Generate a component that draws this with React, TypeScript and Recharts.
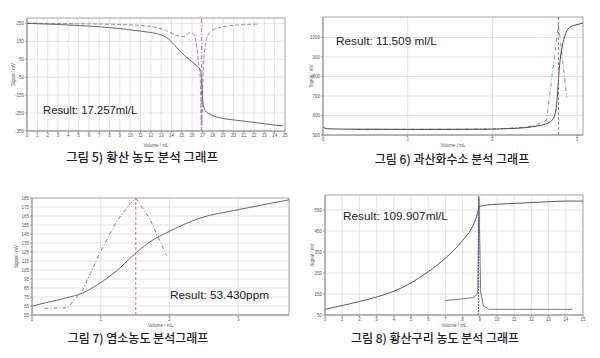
import { LineChart, Line, XAxis, YAxis, CartesianGrid, ReferenceLine, ReferenceArea } from 'recharts';

// 그림 5) 황산 농도
const h2so4Volume = [0, 1, 2, 3, 4, 5, 6, 7, 8, 9, 10, 11, 12, 12.5, 13, 13.5, 14, 14.5, 15, 15.5, 16, 16.5, 16.8, 16.9, 17.0, 17.1, 17.3, 17.7, 19, 20, 22, 24, 24.8];
const h2so4Signal = [250, 248, 246, 244, 241, 238, 235, 231, 226, 221, 214, 207, 199, 194, 186, 172, 148, 115, 85, 60, 35, 10, -8, -45, -157, -210, -238, -255, -280, -288, -302, -317, -321];
const h2so4DerivVolume = [0, 3, 6, 9, 12, 13.5, 14.5, 15, 15.3, 15.8, 16, 16.2, 16.4, 16.6, 16.8, 16.9, 17.1, 17.3, 17.6, 18, 19, 20, 21, 22.3];
const h2so4Deriv = [252, 249, 247, 244, 232, 210, 182, 176, 180, 198, 196, 185, 137, 40, -75, -322, 8, 137, 191, 213, 232, 239, 243, 246];
const h2so4Endpoint = 16.9;
const h2so4XTicks = [0, 1, 2, 3, 4, 5, 6, 7, 8, 9, 10, 11, 12, 13, 14, 15, 16, 17, 18, 19, 20, 21, 22, 23, 24, 25];
const h2so4YTicks = [-350, -250, -150, -50, 50, 150, 250];

// 그림 6) 과산화수소
const h2o2Volume = [0, 0.05, 0.3, 1, 1.5, 2, 2.2, 2.4, 2.55, 2.65, 2.71, 2.75, 2.8, 2.86, 2.92, 3.0, 3.07];
const h2o2Signal = [540, 532, 530, 529, 529, 530, 533, 538, 548, 560, 578, 628, 885, 1013, 1054, 1066, 1074];
const h2o2DerivVolume = [0.4, 1.1, 1.6, 2.0, 2.3, 2.5, 2.64, 2.78, 2.88];
const h2o2Deriv = [528, 529, 530, 531, 537, 548, 577, 1068, 690];
const h2o2Endpoint = 2.78;
const h2o2XTicks = [0, 1, 2, 3];
const h2o2YTicks = [500, 600, 700, 800, 900, 1000];

// 그림 7) 염소농도
const chlorineVolume = [0, 0.25, 0.5, 0.74, 1, 1.23, 1.47, 1.71, 2, 2.44, 3, 3.4, 3.74];
const chlorineSignal = [65, 69.5, 74, 79.5, 91, 104, 121, 136, 148, 162.5, 172, 178, 183];
const chlorineDerivVolume = [0.18, 0.52, 0.74, 0.98, 1.23, 1.42, 1.51, 1.71, 1.96];
const chlorineDeriv = [62.5, 63, 83, 123, 159, 178, 184.5, 162.5, 121];
const chlorineEndpoint = 1.51;
const chlorineXTicks = [0, 1, 2, 3];
const chlorineYTicks = [55, 65, 75, 85, 95, 105, 115, 125, 135, 145, 155, 165, 175, 185];

// 그림 8) 황산구리 농도
const cuso4Volume = [0, 1, 2, 3, 4, 5, 6, 7, 8, 8.5, 8.7, 8.85, 8.95, 9.05, 9.4, 10, 11, 12, 13, 14, 15];
const cuso4Signal = [77, 95, 114, 136, 163, 203, 256, 321, 405, 460, 494, 530, 560, 569, 574, 578, 582, 586, 590, 593, 593];
const cuso4DerivVolume = [7, 8, 8.7, 8.88, 8.95, 9.05, 9.2, 9.5, 10, 12, 14.4];
const cuso4Deriv = [119, 127, 135, 155, 610, 160, 95, 78, 77, 77, 77];
const cuso4Endpoint = 8.92;
const cuso4XTicks = [0, 1, 2, 3, 4, 5, 6, 7, 8, 9, 10, 11, 12, 13, 14, 15];
const cuso4YTicks = [50, 150, 250, 350, 450, 550];

const zip = (xs: number[], ys: number[]) => xs.map((x, i) => ({ x, y: ys[i] }));

type Series = { data: { x: number; y: number }[]; stroke: string; dash?: string; width?: number; smooth?: boolean };

type PanelProps = {
  left: number; top: number; width: number; height: number;
  margin: { top: number; right: number; bottom: number; left: number };
  yWidth: number; xHeight: number;
  xDomain: [number, number]; yDomain: [number, number];
  xTicks: number[]; yTicks: number[];
  series: Series[];
  endpoint: number; endpointColor: string; endpointDash: string;
};

const tickStyle = { fontSize: 4.5, fill: '#555', fontFamily: 'Liberation Sans, Arial, sans-serif' };

function Panel(p: PanelProps) {
  return (
    <div style={{ position: 'absolute', left: p.left, top: p.top }}>
      <LineChart width={p.width} height={p.height} margin={p.margin}>
        <CartesianGrid stroke="#dcdcdc" strokeWidth={0.8} />
        <XAxis
          type="number"
          dataKey="x"
          domain={p.xDomain}
          ticks={p.xTicks}
          interval={0}
          allowDataOverflow
          height={p.xHeight}
          tickSize={2}
          tickMargin={1}
          stroke="#999"
          tick={tickStyle}
          label={{ value: 'Volume / mL', position: 'insideBottom', offset: 3, style: tickStyle }}
        />
        <YAxis
          type="number"
          dataKey="y"
          domain={p.yDomain}
          ticks={p.yTicks}
          interval={0}
          allowDataOverflow
          width={p.yWidth}
          tickSize={2}
          tickMargin={1}
          stroke="#999"
          tick={tickStyle}
          label={{ value: 'Signal / mV', angle: -90, position: 'center', style: tickStyle }}
        />
        <ReferenceArea x1={p.xDomain[0]} x2={p.xDomain[1]} y1={p.yDomain[0]} y2={p.yDomain[1]} fill="none" stroke="#a0a0a0" strokeWidth={0.8} />
        {p.series.map((s, i) => (
          <Line
            key={i}
            data={s.data}
            dataKey="y"
            type={s.smooth ? 'monotone' : 'linear'}
            stroke={s.stroke}
            strokeWidth={s.width ?? 0.9}
            strokeDasharray={s.dash}
            dot={false}
            isAnimationActive={false}
          />
        ))}
        <ReferenceLine x={p.endpoint} stroke={p.endpointColor} strokeDasharray={p.endpointDash} strokeWidth={0.9} />
      </LineChart>
    </div>
  );
}

const resultStyle = {
  position: 'absolute' as const,
  fontFamily: 'Liberation Sans, Arial, sans-serif',
  fontSize: 11.8,
  color: '#1c1c1c',
  lineHeight: '12px',
  whiteSpace: 'nowrap' as const,
};

const captionStyle = {
  position: 'absolute' as const,
  fontFamily: '"Noto Sans CJK KR", sans-serif',
  fontSize: 12,
  fontWeight: 500,
  color: '#222',
  lineHeight: '14px',
  whiteSpace: 'nowrap' as const,
  transform: 'translateX(-50%)',
};

export default function App() {
  return (
    <div style={{ position: 'absolute', left: 0, top: 0, width: 600, height: 358, background: '#fff', overflow: 'hidden' }}>
      <Panel
        left={0} top={0} width={300} height={150}
        margin={{ top: 18, right: 15, bottom: 0, left: 0 }}
        yWidth={27} xHeight={19}
        xDomain={[0, 25]} yDomain={[-350, 280]}
        xTicks={h2so4XTicks} yTicks={h2so4YTicks}
        series={[
          { data: zip(h2so4DerivVolume, h2so4Deriv), stroke: '#8a7aa8', dash: '4 2', smooth: true },
          { data: zip(h2so4Volume, h2so4Signal), stroke: '#555', smooth: true },
        ]}
        endpoint={h2so4Endpoint} endpointColor="#b0609a" endpointDash="4 2 1 2"
      />
      <Panel
        left={300} top={0} width={300} height={150}
        margin={{ top: 17, right: 17, bottom: 0, left: 0 }}
        yWidth={23} xHeight={15}
        xDomain={[0, 3.07]} yDomain={[500, 1105]}
        xTicks={h2o2XTicks} yTicks={h2o2YTicks}
        series={[
          { data: zip(h2o2DerivVolume, h2o2Deriv), stroke: '#8c7c86', dash: '4 2 1 2' },
          { data: zip(h2o2Volume, h2o2Signal), stroke: '#333', smooth: true },
        ]}
        endpoint={h2o2Endpoint} endpointColor="#c06080" endpointDash="3 2"
      />
      <Panel
        left={0} top={180} width={300} height={150}
        margin={{ top: 18, right: 11, bottom: 0, left: 0 }}
        yWidth={32} xHeight={15}
        xDomain={[0, 3.74]} yDomain={[55, 185]}
        xTicks={chlorineXTicks} yTicks={chlorineYTicks}
        series={[
          { data: zip(chlorineDerivVolume, chlorineDeriv), stroke: '#777', dash: '4 2 1 2' },
          { data: zip(chlorineVolume, chlorineSignal), stroke: '#555', smooth: true },
        ]}
        endpoint={chlorineEndpoint} endpointColor="#d05878" endpointDash="3 2"
      />
      <Panel
        left={300} top={180} width={300} height={150}
        margin={{ top: 15, right: 17, bottom: 0, left: 0 }}
        yWidth={25} xHeight={15}
        xDomain={[0, 15]} yDomain={[50, 622]}
        xTicks={cuso4XTicks} yTicks={cuso4YTicks}
        series={[
          { data: zip(cuso4DerivVolume, cuso4Deriv), stroke: '#6a6a80' },
          { data: zip(cuso4Volume, cuso4Signal), stroke: '#444', smooth: true },
        ]}
        endpoint={cuso4Endpoint} endpointColor="#4a4a9c" endpointDash="2 1"
      />

      <div style={{ ...resultStyle, left: 43, top: 104, fontSize: 11.3 }}>Result: 17.257ml/L</div>
      <div style={{ ...resultStyle, left: 336, top: 35 }}>Result: 11.509 ml/L</div>
      <div style={{ ...resultStyle, left: 170, top: 289 }}>Result: 53.430ppm</div>
      <div style={{ ...resultStyle, left: 343, top: 210 }}>Result: 109.907ml/L</div>

      <div style={{ ...captionStyle, left: 142, top: 150, fontSize: 12.5 }}>그림 5) 황산 농도 분석 그래프</div>
      <div style={{ ...captionStyle, left: 452, top: 152 }}>그림 6) 과산화수소 분석 그래프</div>
      <div style={{ ...captionStyle, left: 138, top: 331 }}>그림 7) 염소농도 분석그래프</div>
      <div style={{ ...captionStyle, left: 435, top: 331 }}>그림 8) 황산구리 농도 분석 그래프</div>
    </div>
  );
}
